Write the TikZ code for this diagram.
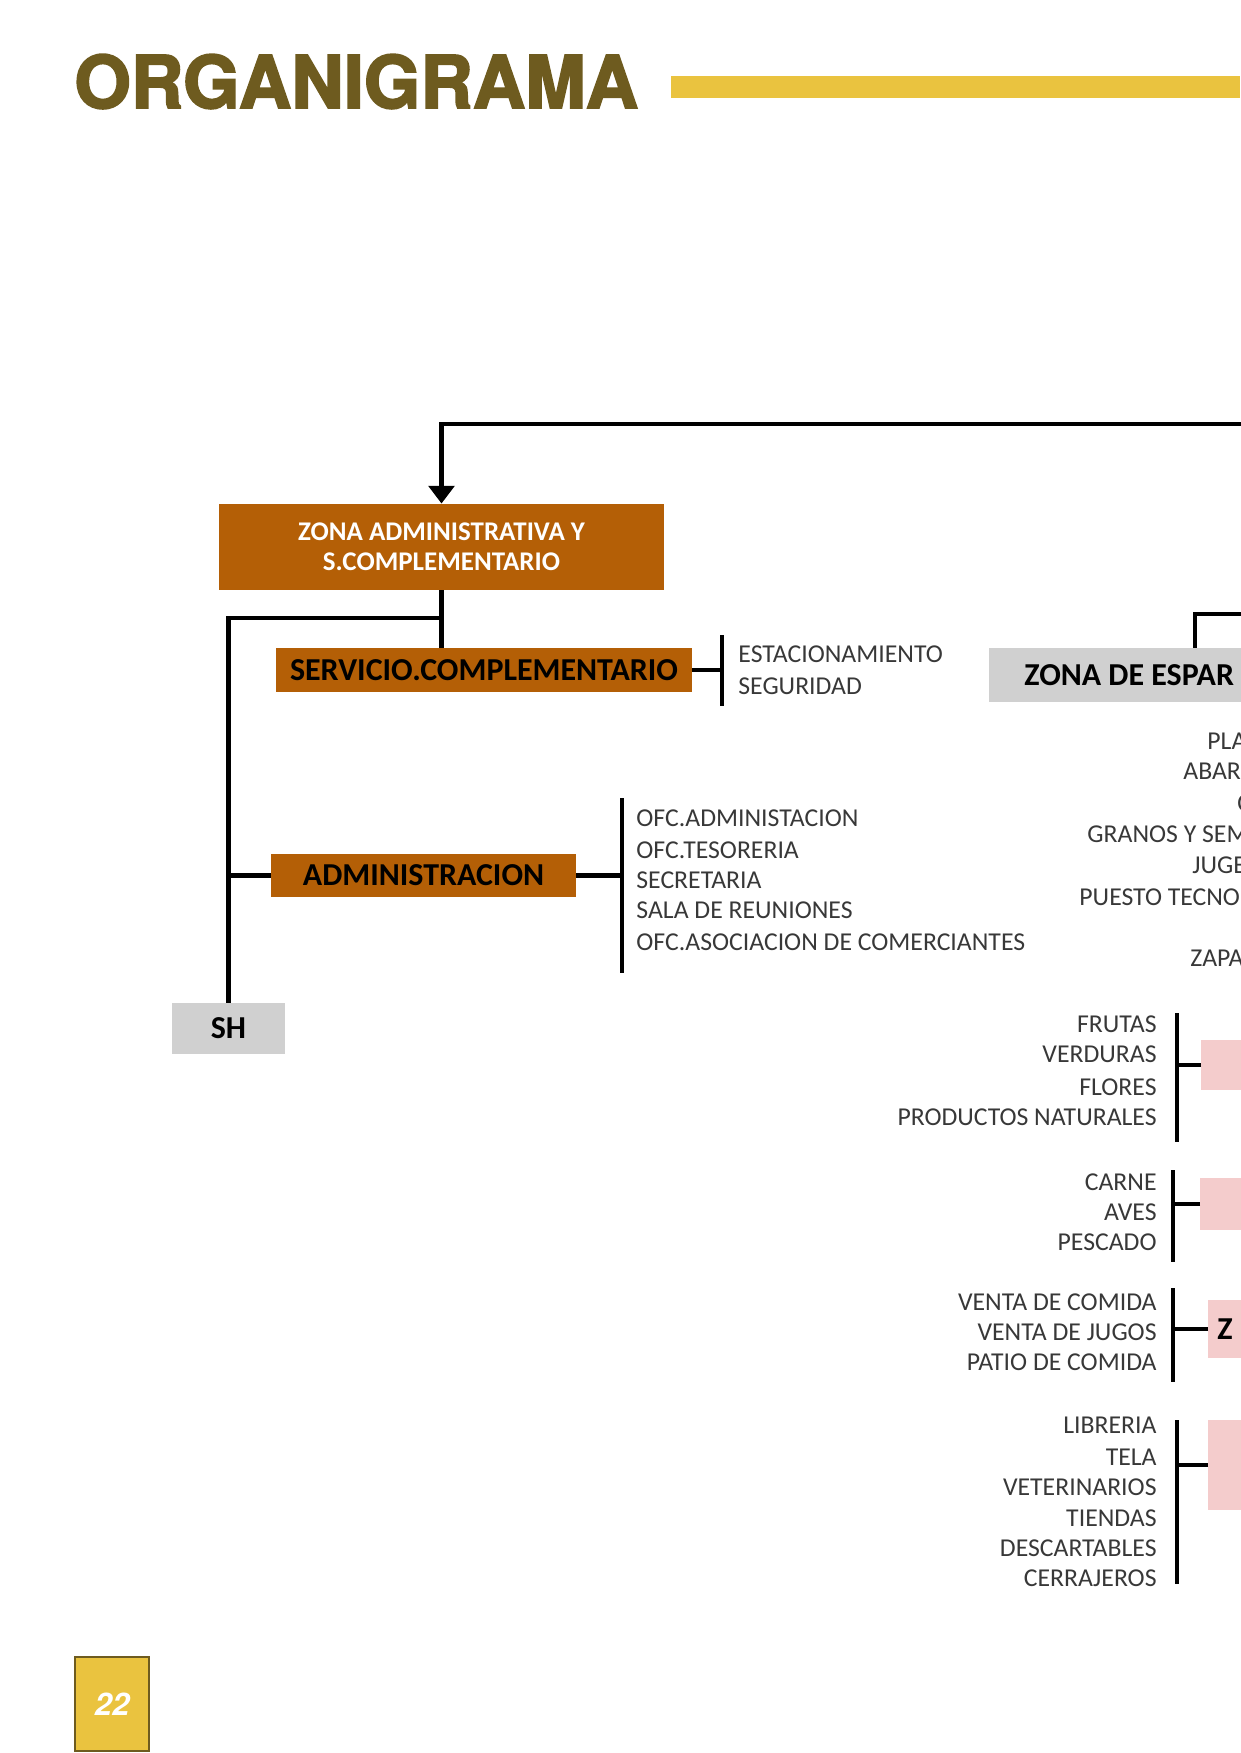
\documentclass[tikz,border=0pt]{standalone}
\usepackage{fontspec}
\setmainfont{Carlito}
\newfontfamily\titlefont{texgyreheros-bold.otf}[FakeBold=2.5]
\newfontfamily\heros{TeX Gyre Heros}
\usepackage{xcolor}
\definecolor{orgOlive}{HTML}{6E5B1F}
\definecolor{orgGold}{HTML}{EAC33F}
\definecolor{orgBrown}{HTML}{B45F06}
\definecolor{orgGray}{HTML}{D0D0D0}
\definecolor{orgPink}{HTML}{F4CCCC}
\definecolor{orgText}{gray}{0.22}
\usetikzlibrary{arrows.meta}
\newcommand{\pxu}{0.016935cm}
\tikzset{
  wire/.style={line width=2.3pt},
  zonebox/.style={fill=orgBrown, text=white, font=\bfseries\fontsize{13}{14.5}\selectfont, align=flush center, inner sep=0pt},
  subbox/.style={fill=orgBrown, font=\bfseries\fontsize{15.4}{18}\selectfont, inner sep=0pt},
  graybox/.style={fill=orgGray, font=\bfseries\fontsize{15.4}{18}\selectfont, inner sep=0pt},
  pinkbox/.style={fill=orgPink, inner sep=0pt},
  item/.style={text=orgText, font=\fontsize{12.4}{14}\selectfont, inner sep=0pt},
}

\begin{document}
\begin{tikzpicture}[x=\pxu, y=-\pxu, >={Triangle[width=0.43cm, length=0.3cm]}]
  \useasboundingbox (0,0) rectangle (1240,1753);
  % ---------- heading ----------
  \node[anchor=base west, inner sep=0pt, text=orgOlive, font=\titlefont\fontsize{35}{35}\selectfont] (title) at (74,108) {ORGANIGRAMA};
  \fill[orgGold] (671,76) rectangle (1240,98);
  % ---------- page number ----------
  \node[fill=orgGold, draw=orgOlive, line width=0.8pt, minimum width=74*\pxu, minimum height=94*\pxu,
        text=white, font=\heros\bfseries\itshape\fontsize{15}{15}\selectfont] (pagenum) at (112,1704) {22};
  % ---------- administrative zone ----------
  \node[zonebox, minimum width=445*\pxu, minimum height=86*\pxu] (zadm) at (441.5,547) {ZONA ADMINISTRATIVA Y\\S.COMPLEMENTARIO};
  \node[subbox, minimum width=416*\pxu, minimum height=44*\pxu] (serv) at (484,670) {SERVICIO.COMPLEMENTARIO};
  \node[subbox, minimum width=305*\pxu, minimum height=43*\pxu] (adm) at (423.5,875.5) {ADMINISTRACION};
  \node[graybox, minimum width=113*\pxu, minimum height=51*\pxu] (sh) at (228.5,1028.5) {SH};
  \coordinate (topin) at (1260,424);
  \coordinate (split) at (441.5,618);
  \draw[wire, ->] (topin) -| (zadm.north);
  \draw[wire] (zadm.south) -- (zadm.south |- serv.north);
  \draw[wire] (split) -| (sh.north);
  \draw[wire] (sh.north |- adm.west) -- (adm.west);
  % service bracket
  \coordinate (servtop) at (722,635);
  \coordinate (servbot) at (722,706);
  \draw[wire] (servtop) -- (servbot);
  \draw[wire] (serv.east) -- (serv.east -| servtop);
  \foreach \yy/\txt [count=\i] in {654/ESTACIONAMIENTO, 686/SEGURIDAD}
    \node[item, anchor=west] (servitem\i) at (738,\yy) {\txt};
  % administration bracket
  \coordinate (admtop) at (622,798);
  \coordinate (admbot) at (622,973);
  \draw[wire] (admtop) -- (admbot);
  \draw[wire] (adm.east) -- (adm.east -| admtop);
  \foreach \yy/\txt [count=\i] in {818/OFC.ADMINISTACION, 850/OFC.TESORERIA, 880/SECRETARIA,
      910/SALA DE REUNIONES, 942/OFC.ASOCIACION DE COMERCIANTES}
    \node[item, anchor=west] (admitem\i) at (636,\yy) {\txt};
  % ---------- recreation zone (cut at the page edge) ----------
  \node[graybox, anchor=west, minimum height=54*\pxu, text width=280*\pxu, inner xsep=35*\pxu, align=flush left] (zesp) at (989,675) {ZONA DE ESPAR};
  \coordinate (zespin) at (1260,614);
  \coordinate (zesptap) at (1195,614);
  \draw[wire] (zespin) -- (zesptap) -- (zesptap |- zesp.north);
  \foreach \xx/\yy/\txt [count=\i] in {1207/741/PLA, 1183/771/ABAR, 1237/803/C, 1087/834/GRANOS Y SEM,
      1192/865/JUGE, 1079/897/PUESTO TECNO, 1190/958/ZAPA}
    \node[item, anchor=west] (zespitem\i) at (\xx,\yy) {\txt};
  % ---------- market groups ----------
  \node[pinkbox, anchor=west, minimum width=100*\pxu, minimum height=50*\pxu] (frutabox) at (1201,1065) {};
  \node[pinkbox, anchor=west, minimum width=100*\pxu, minimum height=52*\pxu] (carnebox) at (1200,1204) {};
  \node[pinkbox, anchor=west, minimum height=58*\pxu, text width=80*\pxu, inner xsep=9*\pxu, align=flush left,
        font=\bfseries\fontsize{15.4}{18}\selectfont] (comidabox) at (1208,1329) {Z};
  \node[pinkbox, anchor=west, minimum width=100*\pxu, minimum height=90*\pxu] (tiendabox) at (1208,1465) {};
  % brackets
  \coordinate (frutatop) at (1177,1013);
  \coordinate (frutabot) at (1177,1142);
  \coordinate (carnetop) at (1173,1170);
  \coordinate (carnebot) at (1173,1262);
  \coordinate (comidatop) at (1173,1288);
  \coordinate (comidabot) at (1173,1382);
  \coordinate (tiendatop) at (1177,1420);
  \coordinate (tiendabot) at (1177,1584);
  \foreach \grp in {fruta, carne, comida, tienda} {
    \draw[wire] (\grp top) -- (\grp bot);
    \draw[wire] (\grp box.west) -- (\grp box.west -| \grp top);
  }
  % item lists
  \foreach \yy/\txt [count=\i] in {1024/FRUTAS, 1054/VERDURAS, 1087/FLORES, 1117/PRODUCTOS NATURALES}
    \node[item, anchor=east] (frutaitem\i) at (1157,\yy) {\txt};
  \foreach \yy/\txt [count=\i] in {1182/CARNE, 1212/AVES, 1242/PESCADO}
    \node[item, anchor=east] (carneitem\i) at (1157,\yy) {\txt};
  \foreach \yy/\txt [count=\i] in {1302/VENTA DE COMIDA, 1332/VENTA DE JUGOS, 1362/PATIO DE COMIDA}
    \node[item, anchor=east] (comidaitem\i) at (1157,\yy) {\txt};
  \foreach \yy/\txt [count=\i] in {1425/LIBRERIA, 1457/TELA, 1487/VETERINARIOS, 1518/TIENDAS,
      1548/DESCARTABLES, 1578/CERRAJEROS}
    \node[item, anchor=east] (tiendaitem\i) at (1157,\yy) {\txt};
\end{tikzpicture}
\end{document}
